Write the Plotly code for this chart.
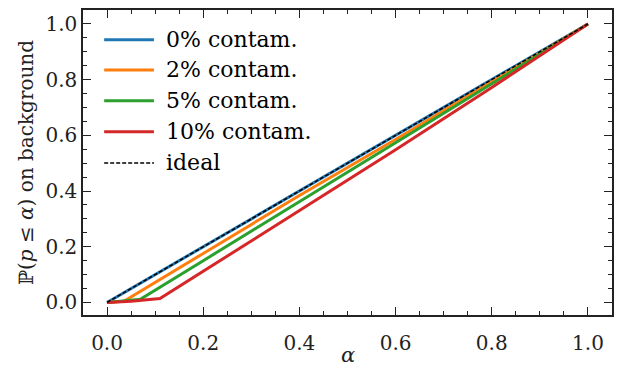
import plotly.graph_objects as go

# Significance level grid and empirical rejection rates on background
alpha_0 = [0.0, 0.2, 0.4, 0.6, 0.8, 1.0]
rate_0 = [0.0, 0.2, 0.4, 0.6, 0.8, 1.0]

alpha_2 = [0.0, 0.035, 0.2, 0.4, 0.6, 0.8, 1.0]
rate_2 = [0.0, 0.004, 0.176, 0.384, 0.585, 0.792, 1.0]

alpha_5 = [0.0, 0.04, 0.07, 0.2, 0.4, 0.6, 0.8, 1.0]
rate_5 = [0.0, 0.006, 0.012, 0.150, 0.362, 0.572, 0.785, 1.0]

alpha_10 = [0.0, 0.05, 0.11, 0.2, 0.4, 0.6, 0.8, 1.0]
rate_10 = [0.0, 0.004, 0.014, 0.112, 0.330, 0.548, 0.772, 1.0]

ideal_x = [0.0, 1.0]
ideal_y = [0.0, 1.0]

series_names = ["0% contam.", "2% contam.", "5% contam.", "10% contam."]
series_colors = ["#1f77b4", "#ff7f0e", "#2ca02c", "#d62728"]
series_x = [alpha_0, alpha_2, alpha_5, alpha_10]
series_y = [rate_0, rate_2, rate_5, rate_10]

x_ticks = [0.0, 0.2, 0.4, 0.6, 0.8, 1.0]
y_ticks = [0.0, 0.2, 0.4, 0.6, 0.8, 1.0]

FONT = "DejaVu Serif"

fig = go.Figure()
for name, color, xs, ys in zip(series_names, series_colors, series_x, series_y):
    fig.add_trace(go.Scatter(x=xs, y=ys, mode="lines", name=name,
                             line=dict(color=color, width=3),
                             showlegend=False))
fig.add_trace(go.Scatter(x=ideal_x, y=ideal_y, mode="lines", name="ideal",
                         line=dict(color="black", width=1.5, dash="4px,2px"),
                         showlegend=False))

# Frameless legend in the upper-left corner
legend_rows_y = [0.943, 0.835, 0.724, 0.613, 0.501]
legend_entries = list(zip(series_names, series_colors)) + [("ideal", "black")]
for (label, color), ly in zip(legend_entries, legend_rows_y):
    is_ideal = label == "ideal"
    fig.add_shape(type="line", xref="x", yref="y",
                  x0=-0.006, x1=0.0975, y0=ly, y1=ly,
                  line=dict(color=color, width=1.5 if is_ideal else 3,
                            dash="4px,2px" if is_ideal else "solid"))
    fig.add_annotation(x=0.118, y=ly, xref="x", yref="y", text=label,
                       showarrow=False, xanchor="left", yanchor="middle",
                       font=dict(family=FONT, size=22, color="black"))

# x-axis label placed just below the tick labels
fig.add_annotation(x=0.5, y=-0.13, xref="paper", yref="paper", text="<i>α</i>",
                   showarrow=False, xanchor="center", yanchor="middle",
                   font=dict(family=FONT, size=21, color="#222"))

axis_common = dict(
    showgrid=False, zeroline=False,
    showline=True, linecolor="#222", linewidth=1.5, mirror="allticks",
    ticks="inside", ticklen=8, tickwidth=1.2, tickcolor="#222",
    tickfont=dict(family=FONT, size=20, color="#222"),
    tickformat=".1f",
    minor=dict(ticks="inside", ticklen=4, tickwidth=1.0, tickcolor="#222",
               dtick=0.05, showgrid=False),
)

fig.update_xaxes(range=[-0.05, 1.05], tickvals=x_ticks, ticklabelstandoff=9,
                 **axis_common)
fig.update_yaxes(range=[-0.045, 1.05], tickvals=y_ticks,
                 title=dict(text="ℙ(<i>p</i> ≤ <i>α</i>) on background",
                            font=dict(family=FONT, size=20, color="#222"),
                            standoff=6),
                 **axis_common)

fig.update_layout(
    width=620, height=371,
    margin=dict(l=83, r=8, t=10, b=56, autoexpand=False),
    plot_bgcolor="white", paper_bgcolor="white",
    font=dict(family=FONT),
)

fig.write_html("out.html")
